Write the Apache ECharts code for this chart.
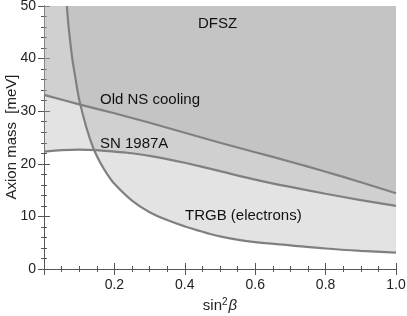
<!DOCTYPE html>
<html>
<head>
<meta charset="utf-8">
<script src="https://cdn.jsdelivr.net/npm/echarts@6/dist/echarts.min.js"></script>
<style>html,body{margin:0;padding:0;background:#fff}#c{width:407px;height:316px}</style>
</head>
<body>
<div id="c"></div>
<script>
// sin^2(beta) positions and axion-mass bounds [meV]
const nsX   = [0, 0.1, 0.2, 0.3, 0.4, 0.5, 0.6, 0.7, 0.8, 0.9, 1.0];
const nsY   = [33.1, 31.3, 29.6, 27.8, 25.9, 24.0, 22.2, 20.4, 18.5, 16.5, 14.4];
const snX   = [0, 0.05, 0.1, 0.15, 0.2, 0.25, 0.3, 0.35, 0.4, 0.5, 0.6, 0.7, 0.8, 0.9, 1.0];
const snY   = [22.3, 22.6, 22.7, 22.6, 22.3, 22.0, 21.5, 20.9, 20.2, 18.6, 17.0, 15.6, 14.3, 13.1, 12.0];
const trgbX = [0.065, 0.07, 0.08, 0.09, 0.1, 0.12, 0.14, 0.16, 0.18, 0.2, 0.25, 0.3, 0.35, 0.4, 0.5, 0.6, 0.7, 0.8, 0.9, 1.0];
const trgbY = [50, 46, 40.2, 36, 32.2, 27, 23, 20.2, 18, 16.2, 13, 10.8, 9.3, 8.1, 6.2, 5.1, 4.5, 3.9, 3.45, 3.1];
const xTicks = [0.2, 0.4, 0.6, 0.8, 1.0];
const yTicks = [0, 10, 20, 30, 40, 50];
const labels = ['DFSZ', 'Old NS cooling', 'SN 1987A', 'TRGB (electrons)'];
const yName = 'Axion mass  [meV]';

const FONT = "'Liberation Sans', Arial, sans-serif";
const pairs = (xs, ys) => xs.map((x, i) => [x, ys[i]]);
const lineCol = '#808080';
const axisCol = '#555';

function curve(name, xs, ys) {
  return {
    name, type: 'line', data: pairs(xs, ys), smooth: 0.3,
    symbol: 'none', clip: true,
    lineStyle: { color: lineCol, width: 2.2 },
    areaStyle: { origin: 'end', color: 'rgb(174,174,174)', opacity: 0.34 },
    z: 2
  };
}

const baseX = {
  type: 'value', min: 0, max: 1, interval: 0.2,
  axisLine: { show: true, lineStyle: { color: axisCol, width: 1 } },
  axisTick: { show: true, inside: true, length: 6, lineStyle: { color: axisCol } },
  minorTick: { show: true, splitNumber: 4, length: 3, lineStyle: { color: axisCol } },
  splitLine: { show: false }
};
const baseY = {
  type: 'value', min: 0, max: 50, interval: 10,
  axisLine: { show: true, lineStyle: { color: axisCol, width: 1 } },
  axisTick: { show: true, inside: true, length: 6, lineStyle: { color: axisCol } },
  minorTick: { show: true, splitNumber: 5, length: 3, lineStyle: { color: axisCol } },
  splitLine: { show: false }
};

const chart = echarts.init(document.getElementById('c'), null, { renderer: 'canvas' });
chart.setOption({
  animation: false,
  backgroundColor: '#fff',
  grid: { left: 44, right: 11, top: 6, bottom: 47, containLabel: false, outerBoundsMode: 'none' },
  xAxis: [
    Object.assign({}, baseX, {
      position: 'bottom',
      axisLabel: { show: true, color: '#222', fontSize: 14, fontFamily: FONT, margin: 9,
        formatter: v => (xTicks.some(t => Math.abs(t - v) < 1e-9) ? v.toFixed(1) : '') },
      name: '{a|sin}{s|2}{b|β}', nameLocation: 'middle', nameGap: 26,
      nameTextStyle: { rich: {
        a: { fontSize: 15, fontFamily: FONT, color: '#222' },
        s: { fontSize: 10, fontFamily: FONT, color: '#222', verticalAlign: 'top', padding: [0, 1, 8, 0] },
        b: { fontSize: 15, fontFamily: FONT, fontStyle: 'italic', color: '#222' }
      } }
    }),
    Object.assign({}, baseX, { position: 'top', axisLabel: { show: false } })
  ],
  yAxis: [
    Object.assign({}, baseY, {
      position: 'left',
      axisLabel: { show: true, color: '#222', fontSize: 14, fontFamily: FONT, margin: 8,
        formatter: v => (yTicks.indexOf(v) >= 0 ? String(v) : '') }
    }),
    Object.assign({}, baseY, { position: 'right', axisLabel: { show: false } })
  ],
  series: [
    curve('Old NS cooling', nsX, nsY),
    curve('SN 1987A', snX, snY),
    curve('TRGB (electrons)', trgbX, trgbY)
  ],
  graphic: [
    { type: 'text', x: 12, y: 137, rotation: Math.PI / 2, z: 10,
      style: { text: yName, font: '15px ' + FONT, fill: '#222', align: 'center', verticalAlign: 'middle' } },
    { type: 'text', left: 198, top: 16, z: 10, style: { text: labels[0], font: '15px ' + FONT, fill: '#111' } },
    { type: 'text', left: 100, top: 92, z: 10, style: { text: labels[1], font: '15px ' + FONT, fill: '#111' } },
    { type: 'text', left: 100, top: 136, z: 10, style: { text: labels[2], font: '15px ' + FONT, fill: '#111' } },
    { type: 'text', left: 185, top: 208, z: 10, style: { text: labels[3], font: '15px ' + FONT, fill: '#111' } }
  ]
});
</script>
</body>
</html>
